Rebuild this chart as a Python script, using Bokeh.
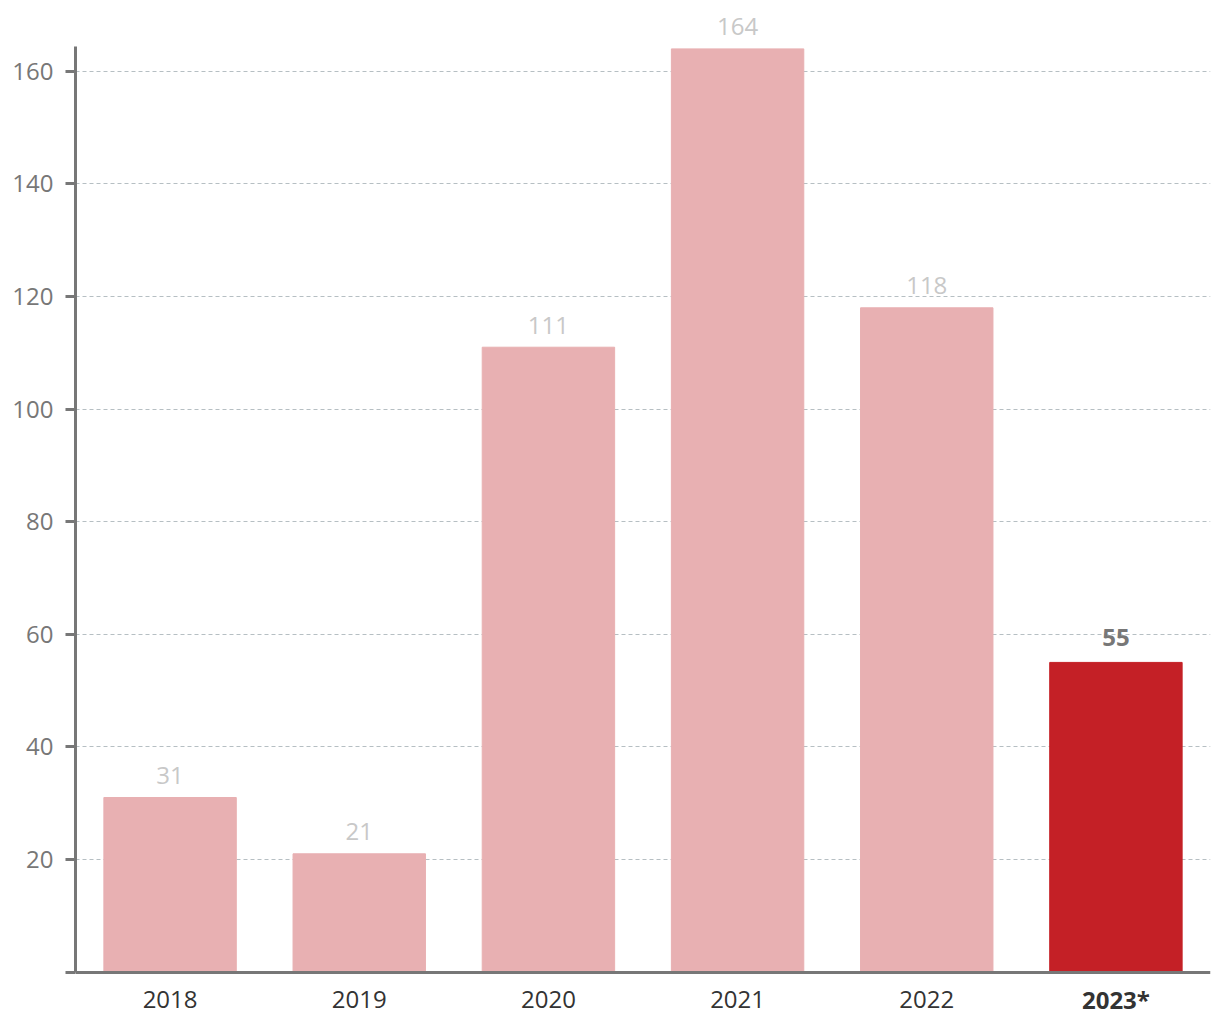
from bokeh.plotting import figure
from bokeh.models import ColumnDataSource, Label, FixedTicker, Range1d, FactorRange
from bokeh.embed import file_html
from bokeh.resources import INLINE

years = ["2018", "2019", "2020", "2021", "2022", "2023*"]
values = [31, 21, 111, 164, 118, 55]
y_ticks = [0, 20, 40, 60, 80, 100, 120, 140, 160]

FONT = "Open Sans"
FS = "24px"
LIGHT = "#e8b0b2"
DARK = "#c42026"

colors = [LIGHT] * (len(years) - 1) + [DARK]
src_all = ColumnDataSource(dict(years=years, values=values, colors=colors))

# frame extends above/below the axes so value and category labels stay inside it
p = figure(x_range=FactorRange(*years), y_range=Range1d(-7.55, 171.53),
           width=1220, height=1020, output_backend="svg", toolbar_location=None,
           min_border_left=75, min_border_right=10, min_border_top=6, min_border_bottom=6)
p.outline_line_color = None
p.background_fill_color = "white"

p.vbar(x="years", top="values", width=0.7, color="colors", source=src_all)

# grid
p.xgrid.grid_line_color = None
p.ygrid.ticker = FixedTicker(ticks=y_ticks[1:])
p.ygrid.grid_line_color = "#b6bfc3"
p.ygrid.grid_line_dash = "4 3"
p.ygrid.grid_line_width = 1

# y axis
p.yaxis.ticker = FixedTicker(ticks=y_ticks)
p.yaxis.bounds = (0, 164.4)
p.yaxis.major_label_overrides = {0: ""}
p.yaxis.axis_line_color = "#777777"
p.yaxis.axis_line_width = 3
p.yaxis.major_tick_line_color = "#777777"
p.yaxis.major_tick_line_width = 3
p.yaxis.major_tick_out = 10
p.yaxis.major_tick_in = 0
p.yaxis.minor_tick_line_color = None
p.yaxis.major_label_text_font = FONT
p.yaxis.major_label_text_font_size = FS
p.yaxis.major_label_text_color = "#777777"
p.yaxis.major_label_standoff = 12

# x axis at y = 0 (labels drawn as annotations so the last one can be bold)
p.xaxis.fixed_location = 0
p.xaxis.axis_line_color = "#777777"
p.xaxis.axis_line_width = 3
p.xaxis.major_tick_line_color = None
p.xaxis.major_tick_out = 0
p.xaxis.major_tick_in = 0
p.xaxis.major_label_text_color = None
p.xaxis.major_label_text_font_size = "0px"
p.xaxis.major_label_standoff = 0

last = len(years) - 1
for i, (yr, v) in enumerate(zip(years, values)):
    hi = i == last
    p.add_layout(Label(x=i + 0.5, y=0, y_offset=-27, text=yr, text_align="center",
                       text_baseline="middle", text_font=FONT, text_font_size=FS,
                       text_font_style="bold" if hi else "normal", text_color="#333333"))
    p.add_layout(Label(x=i + 0.5, y=v, y_offset=25 if hi else 22, text=str(v),
                       text_align="center", text_baseline="alphabetic", text_font=FONT,
                       text_font_size=FS, text_font_style="bold" if hi else "normal",
                       text_color="#777777" if hi else "#c8c8c8"))

open("out.html", "w").write(file_html(p, INLINE))
